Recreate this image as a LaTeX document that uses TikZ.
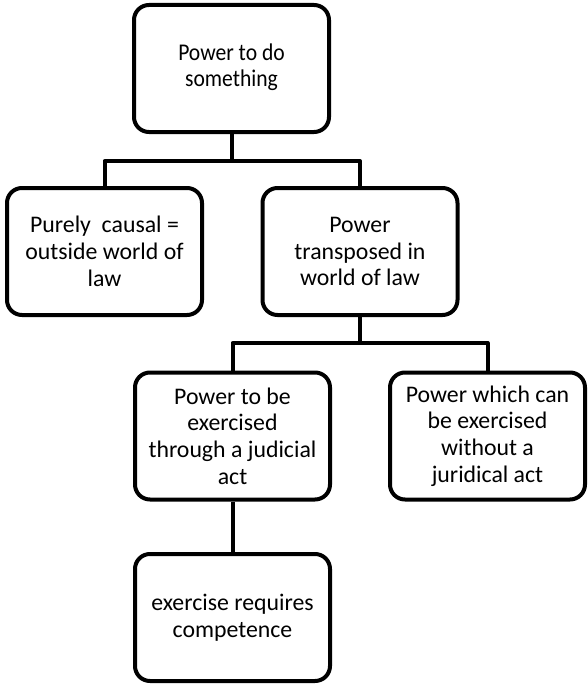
\documentclass[tikz,border=0pt]{standalone}
\usepackage{fontspec}
\setmainfont{Carlito}
\usetikzlibrary{calc}
\begin{document}
\begin{tikzpicture}[x=1pt,y=1pt,
  box/.style={draw=black, fill=white, line width=4pt, rounded corners=15pt,
    rectangle, minimum width=195pt, minimum height=127pt, inner sep=0pt,
    align=center, font=\fontsize{23.8}{26.7}\selectfont},
  topbox/.style={box, font=\fontsize{24}{25}\selectfont},
  conn/.style={draw=black, line width=4pt, line join=round}]
\useasboundingbox (0,0) rectangle (588,-685);
% the top label is set slightly narrow
\node[topbox] (b1) at (231.5,-68.5)
  {\scalebox{0.9}[1]{\begin{tabular}{@{}c@{}}Power to do\\something\end{tabular}}};
\node[box] (b2) at (104.5,-251.5) {Purely\ \ causal =\\outside world of\\law};
\node[box] (b3) at (360,-251.5) {Power\\transposed in\\world of law};
\node[box] (b4) at (232.5,-436) {Power to be\\exercised\\through a judicial\\act};
\node[box] (b5) at (487.5,-436) {Power which can\\be exercised\\without a\\juridical act};
\node[box] (b6) at (232.5,-617.5) {exercise requires\\competence};
% tree connectors
\coordinate (j1) at (231.5,-161);
\coordinate (j2) at (360,-343);
\draw[conn] (b1.south) -- (j1);
\draw[conn] (b2.north) |- (j1) -| (b3.north);
\draw[conn] (b3.south) -- (j2);
\draw[conn] (b4.north) |- (j2) -| (b5.north);
\draw[conn] (b4.south) -- (b6.north);
\end{tikzpicture}
\end{document}
